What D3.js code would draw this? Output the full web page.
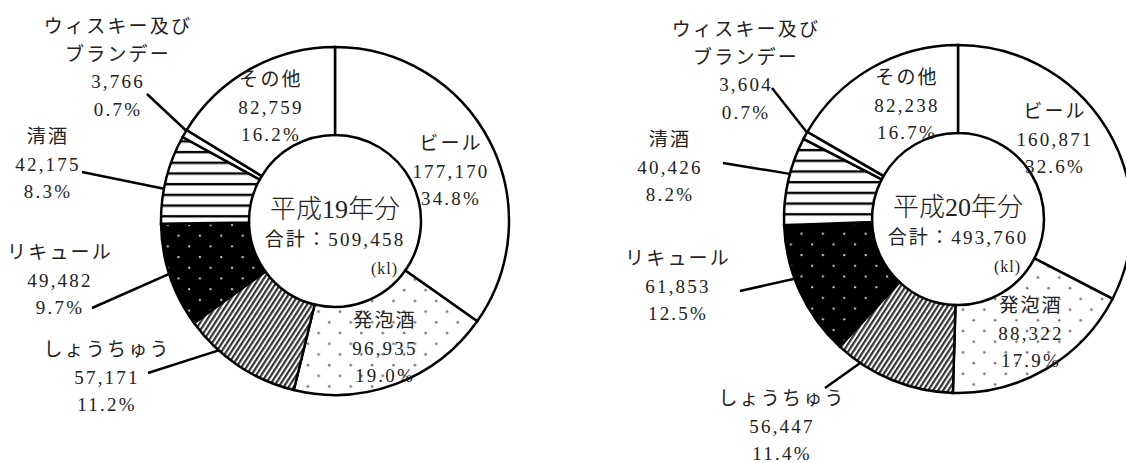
<!DOCTYPE html>
<html>
<head>
<meta charset="utf-8">
<script src="https://cdn.jsdelivr.net/npm/d3@7"></script>
<style>
  body { margin: 0; background: #fff; }
  text { font-family: 'Liberation Serif', 'Noto Sans CJK JP', serif; fill: #222; }
</style>
</head>
<body>
<div id="chart"></div>
<script>
// categories, clockwise from 12 o'clock
const categories = ['ビール', '発泡酒', 'しょうちゅう', 'リキュール', '清酒', 'ウィスキー及び\nブランデー', 'その他'];
const patterns = ['white', 'dots-light', 'diag', 'dots-dark', 'hstripe', 'white', 'white'];

const titles = ['平成19年分', '平成20年分'];
const totals = [509458, 493760];

const volumesH19 = [177170, 96935, 57171, 49482, 42175, 3766, 82759];
const sharesH19 = [34.8, 19.0, 11.2, 9.7, 8.3, 0.7, 16.2];

const volumesH20 = [160871, 88322, 56447, 61853, 40426, 3604, 82238];
const sharesH20 = [32.6, 17.9, 11.4, 12.5, 8.2, 0.7, 16.7];

// label layout (position of first text row, leader start, where the leader hits the slice)
const layoutH19 = {
   cx: 335, cy: 221,
   labels: [
      { x: 451, y: 143 },
      { x: 385, y: 320 },
      { x: 107, y: 349, lead: [148, 373], frac: 0.7 },
      { x: 60, y: 252, lead: [92, 308], frac: 0.52 },
      { x: 48, y: 136, lead: [82, 172], frac: 0.39 },
      { x: 118, y: 26, lead: [147, 94], frac: 0.9 },
      { x: 271, y: 79 },
   ],
};
const layoutH20 = {
   cx: 958, cy: 219,
   labels: [
      { x: 1055, y: 111 },
      { x: 1031, y: 305 },
      { x: 782, y: 398, lead: [825, 388], frac: 0.79 },
      { x: 678, y: 258, lead: [740, 291], frac: 0.6 },
      { x: 670, y: 139, lead: [723, 163], frac: 0.58 },
      { x: 746, y: 29, lead: [772, 88], frac: 0.9 },
      { x: 907, y: 77 },
   ],
};

const width = 1126, height = 463;
const outerR = 174, innerR = 86, lineH = 27.5;
const fmtNum = d3.format(',');
const fmtPct = d3.format('.1f');

const svg = d3.select('#chart').append('svg')
   .attr('width', width)
   .attr('height', height);

svg.append('rect').attr('width', width).attr('height', height).attr('fill', '#fff');

// fill patterns
const defs = svg.append('defs');

const dl = defs.append('pattern').attr('id', 'dots-light')
   .attr('patternUnits', 'userSpaceOnUse').attr('width', 21.4).attr('height', 21.4);
dl.append('rect').attr('width', 21.4).attr('height', 21.4).attr('fill', '#fff');
dl.append('circle').attr('cx', 5).attr('cy', 5).attr('r', 1.3).attr('fill', '#777');
dl.append('circle').attr('cx', 15.7).attr('cy', 15.7).attr('r', 1.3).attr('fill', '#777');

const dd = defs.append('pattern').attr('id', 'dots-dark')
   .attr('patternUnits', 'userSpaceOnUse').attr('width', 21.4).attr('height', 21.4);
dd.append('rect').attr('width', 21.4).attr('height', 21.4).attr('fill', '#000');
dd.append('circle').attr('cx', 4).attr('cy', 4).attr('r', 1.2).attr('fill', '#ccc');
dd.append('circle').attr('cx', 14.7).attr('cy', 14.7).attr('r', 1.2).attr('fill', '#ccc');

const dg = defs.append('pattern').attr('id', 'diag')
   .attr('patternUnits', 'userSpaceOnUse').attr('width', 4.2).attr('height', 10)
   .attr('patternTransform', 'rotate(33)');
dg.append('rect').attr('width', 4.2).attr('height', 10).attr('fill', '#fff');
dg.append('rect').attr('x', 0).attr('width', 2.2).attr('height', 10).attr('fill', '#333');

const hs = defs.append('pattern').attr('id', 'hstripe')
   .attr('patternUnits', 'userSpaceOnUse').attr('width', 10).attr('height', 10.7);
hs.append('rect').attr('width', 10).attr('height', 10.7).attr('fill', '#fff');
hs.append('rect').attr('y', 4.8).attr('width', 10).attr('height', 2.4).attr('fill', '#000');

function drawDonut(volumes, shares, title, total, layout) {
   const data = categories.map((c, i) => ({
      name: c, value: volumes[i], share: shares[i], pattern: patterns[i], pos: layout.labels[i],
   }));

   const pie = d3.pie().sort(null).value((d) => d.value);
   const arcs = pie(data);
   const arc = d3.arc().innerRadius(innerR).outerRadius(outerR);

   const g = svg.append('g').attr('transform', `translate(${layout.cx},${layout.cy})`);

   g.selectAll('path.slice')
      .data(arcs)
      .join('path')
      .attr('class', 'slice')
      .attr('d', arc)
      .attr('fill', (d) => d.data.pattern === 'white' ? '#fff' : `url(#${d.data.pattern})`)
      .attr('stroke', '#000')
      .attr('stroke-width', 2.5)
      .attr('stroke-linejoin', 'miter');

   // leader lines
   const leaders = arcs.filter((d) => d.data.pos.lead);
   const hit = (d) => d.startAngle + d.data.pos.frac * (d.endAngle - d.startAngle);
   svg.selectAll(null)
      .data(leaders)
      .join('line')
      .attr('x1', (d) => d.data.pos.lead[0])
      .attr('y1', (d) => d.data.pos.lead[1])
      .attr('x2', (d) => layout.cx + outerR * Math.sin(hit(d)))
      .attr('y2', (d) => layout.cy - outerR * Math.cos(hit(d)))
      .attr('stroke', '#000')
      .attr('stroke-width', 2.5);

   // labels
   const labels = svg.selectAll(null)
      .data(data)
      .join('text')
      .attr('text-anchor', 'middle')
      .attr('font-size', 19)
      .attr('letter-spacing', 2.2)
      .attr('dominant-baseline', 'central');

   labels.each(function (d) {
      const lines = d.name.split('\n').concat([fmtNum(d.value), fmtPct(d.share) + '%']);
      d3.select(this).selectAll('tspan')
         .data(lines)
         .join('tspan')
         .attr('x', d.pos.x)
         .attr('y', (l, i) => d.pos.y + i * lineH)
         .text((l) => l);
   });

   // centre text
   g.append('text')
      .attr('text-anchor', 'middle')
      .attr('dominant-baseline', 'central')
      .attr('y', -12)
      .attr('font-size', 26)
      .attr('font-weight', 300)
      .text(title);
   g.append('text')
      .attr('text-anchor', 'middle')
      .attr('dominant-baseline', 'central')
      .attr('y', 18)
      .attr('font-size', 19)
      .attr('letter-spacing', 2.2)
      .text('合計：' + fmtNum(total));
   g.append('text')
      .attr('text-anchor', 'end')
      .attr('dominant-baseline', 'central')
      .attr('x', 63)
      .attr('y', 47)
      .attr('font-size', 16)
      .attr('letter-spacing', 1)
      .text('(kl)');
}

drawDonut(volumesH19, sharesH19, titles[0], totals[0], layoutH19);
drawDonut(volumesH20, sharesH20, titles[1], totals[1], layoutH20);
</script>
</body>
</html>
